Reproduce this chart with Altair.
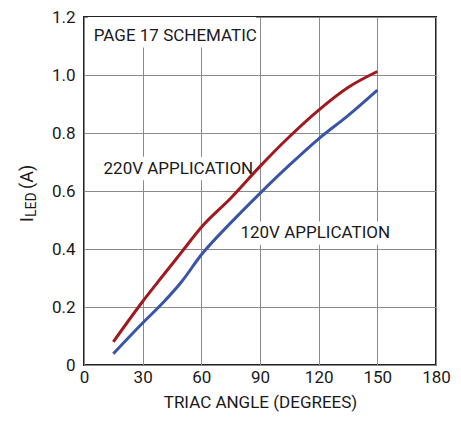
import altair as alt
import pandas as pd

angles = [15, 30, 40, 50, 60, 75, 90, 105, 120, 135, 150]
i_220 = [0.08, 0.219, 0.305, 0.39, 0.475, 0.575, 0.685, 0.787, 0.879, 0.957, 1.012]
i_120 = [0.039, 0.145, 0.212, 0.288, 0.38, 0.49, 0.592, 0.689, 0.78, 0.86, 0.948]
x_ticks = [0, 30, 60, 90, 120, 150, 180]
y_ticks = [0, 0.2, 0.4, 0.6, 0.8, 1.0, 1.2]

labels = ["PAGE 17 SCHEMATIC", "220V APPLICATION", "120V APPLICATION"]
label_x = [5, 10, 80]
label_y = [1.135, 0.677, 0.455]
box_x = [2, 7, 78]
box_x2 = [88, 86, 157]
box_y = [1.095, 0.637, 0.415]
box_y2 = [1.2, 0.718, 0.495]

FONT = "Roboto, sans-serif"
RED = "#a0191f"
BLUE = "#3a55a6"

rows = []
for a, v in zip(angles, i_220):
    rows.append({"deg": a, "val": v, "series": "220V"})
for a, v in zip(angles, i_120):
    rows.append({"deg": a, "val": v, "series": "120V"})
df = pd.DataFrame(rows)

ann = pd.DataFrame({"label": labels, "deg": label_x, "val": label_y,
                    "bx": box_x, "bx2": box_x2, "by": box_y, "by2": box_y2})

xscale = alt.Scale(domain=[0, 180], nice=False, zero=False)
yscale = alt.Scale(domain=[0, 1.2], nice=False)
xaxis = alt.Axis(values=x_ticks, title="TRIAC ANGLE (DEGREES)", grid=True, labelFlush=False)
yaxis = alt.Axis(values=y_ticks, title=None, grid=True, labelFlush=False,
                 labelExpr="datum.value == 0 ? '0' : format(datum.value, '.1f')")

boxes = alt.Chart(ann).mark_rect(color="white").encode(
    x=alt.X("bx:Q", scale=xscale, axis=xaxis),
    x2="bx2:Q",
    y=alt.Y("by:Q", scale=yscale, axis=yaxis),
    y2="by2:Q",
)

lines = alt.Chart(df).mark_line(strokeWidth=3, interpolate="monotone").encode(
    x=alt.X("deg:Q", scale=xscale, axis=xaxis),
    y=alt.Y("val:Q", scale=yscale, axis=yaxis),
    color=alt.Color("series:N", scale=alt.Scale(domain=["220V", "120V"], range=[RED, BLUE]), legend=None),
)

texts = alt.Chart(ann).mark_text(font=FONT, fontSize=17, align="left", baseline="middle", color="#1a1a1a").encode(
    x=alt.X("deg:Q", scale=xscale, axis=xaxis),
    y=alt.Y("val:Q", scale=yscale, axis=yaxis),
    text="label:N",
)

title_parts = pd.DataFrame({"t": ["I", "LED", "(A)"]})
ytitle_I = alt.Chart(title_parts.iloc[[0]]).mark_text(font=FONT, fontSize=18, angle=270, align="left", baseline="alphabetic", color="#1a1a1a").encode(
    x=alt.value(-51), y=alt.value(205), text="t:N")
ytitle_LED = alt.Chart(title_parts.iloc[[1]]).mark_text(font=FONT, fontSize=14, angle=270, align="left", baseline="alphabetic", color="#1a1a1a").encode(
    x=alt.value(-48.5), y=alt.value(200), text="t:N")
ytitle_A = alt.Chart(title_parts.iloc[[2]]).mark_text(font=FONT, fontSize=18, angle=270, align="left", baseline="alphabetic", color="#1a1a1a").encode(
    x=alt.value(-51), y=alt.value(172), text="t:N")

chart = alt.layer(boxes, lines, texts, ytitle_I, ytitle_LED, ytitle_A).properties(
    width=352, height=348,
    autosize=alt.AutoSizeParams(type="none"),
    padding={"left": 76, "top": 9, "right": 16, "bottom": 49},
).configure_view(
    stroke="#222222", strokeWidth=2
).configure_axis(
    gridColor="#8a8a8a", gridWidth=1, gridOpacity=1,
    domain=False, ticks=False,
    labelFont=FONT, labelFontSize=17, labelColor="#1a1a1a",
    titleFont=FONT, titleFontSize=17, titleColor="#1a1a1a", titleFontWeight="normal",
).configure_axisX(
    labelPadding=4, titlePadding=9
).configure_axisY(
    labelPadding=9
)

chart.save("out.html", embed_options={"renderer": "svg", "actions": False})
